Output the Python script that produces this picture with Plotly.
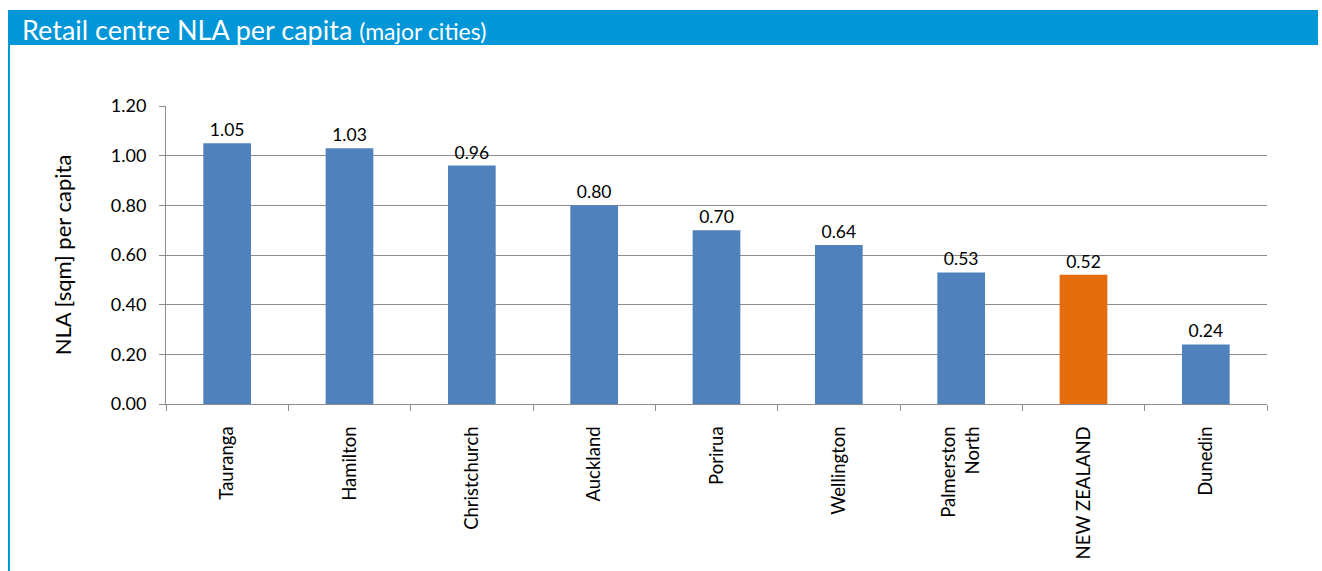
import plotly.graph_objects as go

categories = ["Tauranga", "Hamilton", "Christchurch", "Auckland", "Porirua",
              "Wellington", "Palmerston<br>North", "NEW ZEALAND", "Dunedin"]
values = [1.05, 1.03, 0.96, 0.80, 0.70, 0.64, 0.53, 0.52, 0.24]
highlight = "NEW ZEALAND"

BLUE = "#4F81BD"
ORANGE = "#E46C0A"
BANNER = "#0096D8"
GRID = "#8C8C8C"
FONT = "Lato, 'Open Sans', sans-serif"

colors = [ORANGE if c == highlight else BLUE for c in categories]

fig = go.Figure(go.Bar(
    x=categories, y=values, marker_color=colors, marker_line_width=0,
    texttemplate="%{y:.2f}", textposition="outside", cliponaxis=False,
    textfont=dict(size=17.5, color="#000000", family=FONT),
))

W, H = 1322, 571
L, R, T, B = 166, 55, 106, 167
pw, ph = W - L - R, H - T - B

def px(x):
    return (x - L) / pw

def py(y):
    return (H - B - y) / ph

fig.update_layout(
    width=W, height=H,
    margin=dict(l=L, r=R, t=T, b=B, autoexpand=False),
    paper_bgcolor="white", plot_bgcolor="white",
    bargap=0.61, showlegend=False,
    font=dict(family=FONT, size=15, color="#000000"),
    shapes=[
        dict(type="rect", xref="paper", yref="paper", x0=px(8), x1=px(1318),
             y0=py(45), y1=py(10), fillcolor=BANNER, line_width=0, layer="above"),
        dict(type="line", xref="paper", yref="paper", x0=px(9), x1=px(9),
             y0=py(45), y1=py(571), line=dict(color=BANNER, width=2)),
    ],
    annotations=[
        dict(xref="paper", yref="paper", x=px(20), y=py(29), xanchor="left", yanchor="middle",
             showarrow=False,
             text="Retail centre NLA per capita <span style='font-size:23px'>(major cities)</span>",
             font=dict(size=27, color="white", family=FONT)),
    ],
)

fig.update_xaxes(
    showline=True, linecolor=GRID, linewidth=1,
    ticks="outside", tickson="boundaries", ticklen=6, tickcolor=GRID,
    tickangle=-90, tickfont=dict(size=18.5, family=FONT),
    ticklabelstandoff=14,
    showgrid=False,
)
fig.update_yaxes(
    range=[0, 1.2], dtick=0.2, tickformat=".2f",
    showline=True, linecolor=GRID, linewidth=1,
    ticks="outside", ticklen=6, tickcolor=GRID,
    showgrid=True, gridcolor=GRID, gridwidth=1,
    zeroline=False,
    tickfont=dict(size=18, family=FONT),
    ticklabelstandoff=9,
    title=dict(text="NLA [sqm] per capita", font=dict(size=22, family=FONT), standoff=33),
)

fig.write_html("out.html")
